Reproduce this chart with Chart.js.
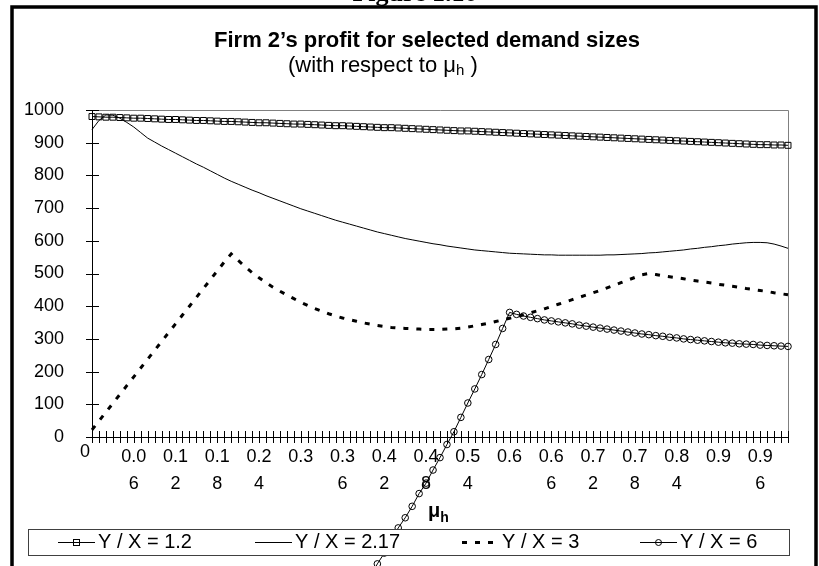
<!DOCTYPE html>
<html><head><meta charset="utf-8">
<script src="https://cdn.jsdelivr.net/npm/chart.js@4.4.1/dist/chart.umd.min.js"></script>
<style>html,body{margin:0;padding:0;background:#fff;}canvas{display:block;}</style>
</head><body>
<canvas id="c" width="819" height="566"></canvas>
<script>
// ---- data ----
const categories = ["0","0.01","0.02","0.03","0.04","0.05","0.06","0.07","0.08","0.09",
"0.1","0.11","0.12","0.13","0.14","0.15","0.16","0.17","0.18","0.19",
"0.2","0.21","0.22","0.23","0.24","0.25","0.26","0.27","0.28","0.29",
"0.3","0.31","0.32","0.33","0.34","0.35","0.36","0.37","0.38","0.39",
"0.4","0.41","0.42","0.43","0.44","0.45","0.46","0.47","0.48","0.49",
"0.5","0.51","0.52","0.53","0.54","0.55","0.56","0.57","0.58","0.59",
"0.6","0.61","0.62","0.63","0.64","0.65","0.66","0.67","0.68","0.69",
"0.7","0.71","0.72","0.73","0.74","0.75","0.76","0.77","0.78","0.79",
"0.8","0.81","0.82","0.83","0.84","0.85","0.86","0.87","0.88","0.89",
"0.9","0.91","0.92","0.93","0.94","0.95","0.96","0.97","0.98","0.99","1"];

const xLabelStep = 6;
const xTickLabels = [["0"],["0.0","6"],["0.1","2"],["0.1","8"],["0.2","4"],["0.3"],["0.3","6"],["0.4","2"],["0.4","8"],["0.5","4"],["0.6"],["0.6","6"],["0.7","2"],["0.7","8"],["0.8","4"],["0.9"],["0.9","6"]];
const yTicks = [0,100,200,300,400,500,600,700,800,900,1000];
const yTickLabels = ["0","100","200","300","400","500","600","700","800","900","1000"];

const seriesNames = ["Y / X = 1.2","Y / X = 2.17","Y / X = 3","Y / X = 6"];

const s12 = [980,979,978,978,977,976,975,975,974,973,
972,971,971,970,969,968,968,967,966,965,
965,964,963,962,961,961,960,959,958,957,
957,956,955,954,953,952,952,951,950,949,
948,947,946,946,945,944,943,942,941,940,
939,938,937,936,936,935,934,933,932,931,
930,929,928,927,926,925,924,923,922,921,
920,919,918,917,916,915,914,913,912,911,
910,909,908,907,906,905,904,903,902,901,
900,899,898,897,896,895,894,894,893,893,892];

const s217 = [940,968,985,984,975,962,948,931,914,902,
890,879,868,857,846,835,825,814,803,792,
782,773,764,755,747,738,730,722,714,706,
698,691,684,677,670,663,657,651,645,639,
633,627,622,617,612,607,603,599,595,591,
588,584,581,578,575,572,570,568,566,564,
562,561,560,559,558,557,557,556,556,556,
556,556,556,556,557,557,558,559,560,561,
563,564,566,568,570,572,575,577,580,582,
585,587,590,592,594,595,595,594,590,584,577];

const s3 = [22,49,76,103,130,157,184,211,238,265,
292,319,346,373,400,427,454,481,508,535,
560,540,521,503,487,472,458,446,434,423,
412,402,393,385,377,370,364,359,354,349,
345,341,338,335,333,332,331,330,329,329,
329,330,331,333,336,340,344,348,353,358,
363,368,374,380,386,392,399,406,413,420,
427,434,441,448,456,464,472,480,488,496,
500,497,493,490,487,484,480,477,474,471,
467,464,461,458,454,451,448,445,441,438,435];

const s6 = [null,null,null,null,null,null,null,null,null,null,
null,null,null,null,null,null,null,null,null,null,
null,null,null,null,null,null,null,null,null,null,
null,null,null,null,null,null,null,null,null,-460,
-425,-388,-355,-318,-278,-247,-212,-173,-141,-101,
-63,-23,16,60,104,147,191,237,283,332,
381,375,370,366,362,358,355,352,349,346,
342,339,336,333,330,327,324,321,318,315,
313,310,308,305,303,300,298,296,294,292,
290,288,287,285,284,283,281,280,279,278,277];

// ---- rendering ----
const FONT = "'Liberation Sans', Arial, sans-serif";
Chart.defaults.font.family = FONT;
Chart.defaults.color = '#000';

const PLOT = {left:92, top:110, right:788, bottom:437};

const unclip = {
  id:'unclip',
  beforeDatasetsDraw(chart){
    chart._savedArea = chart.chartArea;
    chart.chartArea = {left:0, top:0, right:chart.width, bottom:chart.height, width:chart.width, height:chart.height};
  },
  afterDatasetsDraw(chart){ chart.chartArea = chart._savedArea; }
};

const decor = {
  id:'decor',
  beforeDraw(chart){
    const ctx = chart.ctx;
    ctx.save(); ctx.fillStyle = '#fff'; ctx.fillRect(0,0,chart.width,chart.height); ctx.restore();
  },
  beforeDatasetsDraw(chart){
    const ctx = chart.ctx, xs = chart.scales.x, ys = chart.scales.y;
    const a = chart.chartArea;
    ctx.save();
    ctx.strokeStyle = '#808080'; ctx.lineWidth = 1;
    ctx.beginPath();
    ctx.moveTo(a.left, a.top + 0.5); ctx.lineTo(a.right + 0.5, a.top + 0.5); ctx.lineTo(a.right + 0.5, a.bottom);
    ctx.stroke();
    ctx.strokeStyle = '#000';
    ctx.beginPath();
    ctx.moveTo(a.left + 0.5, a.top); ctx.lineTo(a.left + 0.5, a.bottom + 0.5); ctx.lineTo(a.right + 1, a.bottom + 0.5);
    ctx.stroke();
    ctx.beginPath();
    yTicks.forEach(v => { const y = Math.round(ys.getPixelForValue(v)) + 0.5; ctx.moveTo(a.left - 6, y); ctx.lineTo(a.left + 7, y); });
    for (let i = 0; i < categories.length; i++) {
      const x = Math.round(xs.getPixelForValue(i)) + 0.5;
      ctx.moveTo(x, a.bottom - 6); ctx.lineTo(x, a.bottom + 6);
    }
    ctx.stroke();
    ctx.restore();
  },
  afterDraw(chart){
    const ctx = chart.ctx, xs = chart.scales.x;
    ctx.save();
    ctx.font = '18px ' + FONT; ctx.fillStyle = '#000'; ctx.textAlign = 'center'; ctx.textBaseline = 'middle';
    ctx.fillText(xTickLabels[0][0], xs.getPixelForValue(0) - 7, 452);

    ctx.textAlign = 'left'; ctx.textBaseline = 'alphabetic';
    ctx.font = 'bold 20px ' + FONT; ctx.fillText('\u03bc', 428, 517);
    const mw = ctx.measureText('\u03bc').width;
    ctx.font = 'bold 14px ' + FONT; ctx.fillText('h', 428 + mw, 522);

    ctx.textAlign = 'center'; ctx.textBaseline = 'middle';
    ctx.font = 'bold 22px ' + FONT;
    ctx.fillText('Firm 2\u2019s profit for selected demand sizes', 427, 41);
    ctx.textAlign = 'left';
    ctx.font = '22px ' + FONT;
    let sx = 288;
    const p1 = '(with respect to \u03bc';
    ctx.fillText(p1, sx, 66); sx += ctx.measureText(p1).width;
    ctx.font = '15px ' + FONT; ctx.fillText('h', sx, 71); sx += ctx.measureText('h').width;
    ctx.font = '22px ' + FONT; ctx.fillText(' )', sx, 66);

    ctx.textAlign = 'center'; ctx.textBaseline = 'alphabetic';
    ctx.font = 'bold 26px "Liberation Serif", "Times New Roman", serif';
    ctx.fillText('Figure 1.10', 415, 1);

    const box = {l:28.5, t:529.5, r:789.5, b:555.5};
    ctx.fillStyle = '#fff'; ctx.fillRect(box.l, box.t, box.r - box.l, box.b - box.t);
    ctx.strokeStyle = '#404040'; ctx.lineWidth = 1; ctx.strokeRect(box.l, box.t, box.r - box.l, box.b - box.t);
    const cy = 542.5;
    const starts = [58, 255, 462, 640];
    chart.data.datasets.forEach((ds, k) => {
      const x0 = starts[k], x1 = x0 + 37;
      ctx.strokeStyle = '#000';
      ctx.lineWidth = ds.borderWidth;
      ctx.setLineDash(ds.borderDash || []);
      ctx.beginPath(); ctx.moveTo(x0, cy); ctx.lineTo(x1, cy); ctx.stroke();
      ctx.setLineDash([]);
      ctx.lineWidth = 1;
      const mx = (x0 + x1) / 2;
      if (ds.pointStyle === 'rect') { ctx.strokeRect(mx - 3, cy - 3, 6, 6); }
      if (ds.pointStyle === 'circle') { ctx.beginPath(); ctx.arc(mx, cy, 3, 0, Math.PI * 2); ctx.stroke(); }
      ctx.fillStyle = '#000'; ctx.font = '20px ' + FONT; ctx.textAlign = 'left'; ctx.textBaseline = 'middle';
      ctx.fillText(ds.label, x1 + 3, cy);
    });

    ctx.strokeStyle = '#000'; ctx.lineWidth = 3.5;
    ctx.beginPath();
    ctx.moveTo(12, 566); ctx.lineTo(12, 7); ctx.lineTo(816, 7); ctx.lineTo(816, 566);
    ctx.stroke();
    ctx.restore();
  }
};

new Chart(document.getElementById('c'), {
  type: 'line',
  data: {
    labels: categories,
    datasets: [
      {label: seriesNames[0], data: s12, borderColor:'#000', borderWidth:1, pointStyle:'rect', pointRadius:4.2,
       pointBorderColor:'#000', pointBackgroundColor:'rgba(0,0,0,0)', pointBorderWidth:1, clip:false, tension:0},
      {label: seriesNames[1], data: s217, borderColor:'#000', borderWidth:1, pointRadius:0, clip:false, tension:0},
      {label: seriesNames[2], data: s3, borderColor:'#000', borderWidth:3, borderDash:[5,8], pointRadius:0, clip:false, tension:0},
      {label: seriesNames[3], data: s6, borderColor:'#000', borderWidth:1, pointStyle:'circle', pointRadius:3.3,
       pointBorderColor:'#000', pointBackgroundColor:'rgba(0,0,0,0)', pointBorderWidth:1, clip:false, tension:0}
    ]
  },
  options: {
    responsive: false, animation: false, devicePixelRatio: 1,
    layout: {padding: {top: PLOT.top, right: 819 - PLOT.right, bottom: 0, left: 0}},
    plugins: {legend: {display:false}, title: {display:false}, tooltip: {enabled:false}},
    events: [],
    scales: {
      x: {
        type: 'category', offset: false,
        grid: {display:false}, border: {display:false},
        afterFit(s){ s.height = 566 - PLOT.bottom; },
        ticks: {
          autoSkip:false, maxRotation:0, minRotation:0, padding:-1,
          font: {size:18, lineHeight:1.5},
          callback(v, i){ return (i % xLabelStep === 0 && i > 0) ? xTickLabels[i / xLabelStep] : ''; }
        }
      },
      y: {
        min: 0, max: 1000,
        grid: {display:false}, border: {display:false},
        afterFit(s){ s.width = PLOT.left; },
        afterBuildTicks(s){ s.ticks = yTicks.map(v => ({value: v})); },
        ticks: {padding: 20, font: {size:18},
          callback(v){ const k = yTicks.indexOf(v); return k >= 0 ? yTickLabels[k] : ''; }}
      }
    }
  },
  plugins: [decor, unclip]
});
</script>
</body></html>
